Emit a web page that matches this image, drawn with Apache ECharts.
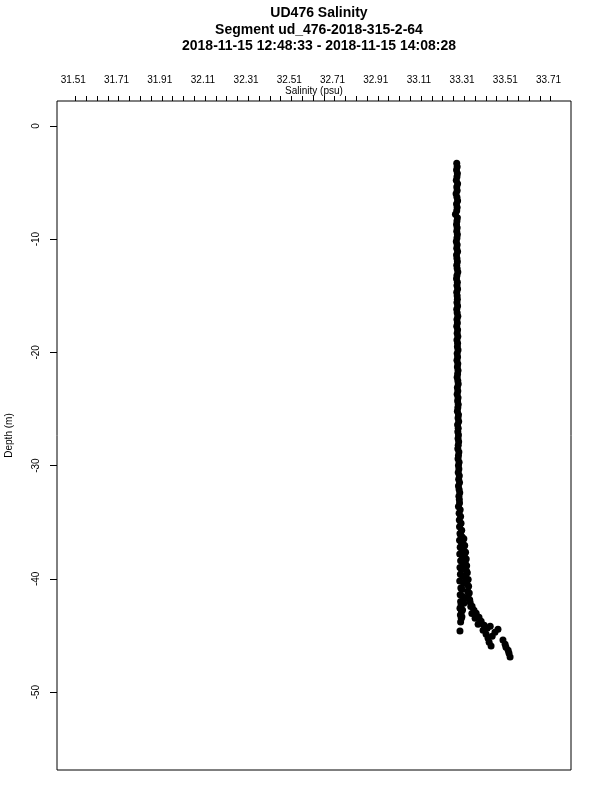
<!DOCTYPE html>
<html>
<head>
<meta charset="utf-8">
<script src="https://cdn.jsdelivr.net/npm/echarts@6/dist/echarts.min.js"></script>
<style>html,body{margin:0;padding:0;background:#fff}#c{width:600px;height:800px}</style>
</head>
<body>
<div id="c"></div>
<script>
// Depth (m) and salinity (psu) for each plotted point
const depth = [
  -3.3,-3.6,-3.9,-4.2,-4.5,-4.8,-5.1,-5.4,-5.7,-6.0,
  -6.3,-6.6,-6.9,-7.2,-7.5,-7.8,-8.1,-8.4,-8.7,-9.0,
  -9.3,-9.6,-9.9,-10.2,-10.5,-10.8,-11.1,-11.4,-11.7,-12.0,
  -12.3,-12.6,-12.9,-13.2,-13.5,-13.8,-14.1,-14.4,-14.7,-15.0,
  -15.3,-15.6,-15.9,-16.2,-16.5,-16.8,-17.1,-17.4,-17.7,-18.0,
  -18.3,-18.6,-18.9,-19.2,-19.5,-19.8,-20.1,-20.4,-20.7,-21.0,
  -21.3,-21.6,-21.9,-22.2,-22.5,-22.8,-23.1,-23.4,-23.7,-24.0,
  -24.3,-24.6,-24.9,-25.2,-25.5,-25.8,-26.1,-26.4,-26.7,-27.0,
  -27.3,-27.6,-27.9,-28.2,-28.5,-28.8,-29.1,-29.4,-29.7,-30.0,
  -30.3,-30.6,-30.9,-31.2,-31.5,-31.8,-32.1,-32.4,-32.7,-33.0,
  -33.3,-33.6,-33.9,-34.2,-34.5,-34.8,-35.1,-35.4,-35.7,-36.0,
  -36.3,-36.6,-36.9,-37.2,-37.5,-37.8,-38.1,-38.4,-38.7,-39.0,
  -39.3,-39.6,-39.9,-40.2,-40.5,-40.8,-41.1,-41.4,-41.7,-42.0,
  -42.3,-42.6,-42.9,-43.2,-43.5,-43.8,-44.6,
  -36.15,-36.45,-36.75,-37.05,-37.35,-37.65,-37.95,-38.25,-38.55,-38.85,
  -39.15,-39.45,-39.75,-40.05,-40.35,-40.65,-40.95,-41.25,-41.55,-41.85,
  -42.15,-42.45,-42.75,-43.05,-43.35,
  -41.62,-42.06,-42.42,-42.77,-43.03,-43.47,-43.39,-43.74,-44.00,-44.09,
  -44.53,-44.36,-44.18,-44.89,-45.24,-45.06,-44.71,-44.44,-45.94,-45.59,
  -45.41,-45.77,-46.03,-46.30,-46.56,-46.91
];
const salinity = [
  33.285,33.287,33.284,33.288,33.286,33.283,33.289,33.285,33.287,33.282,
  33.286,33.289,33.284,33.287,33.285,33.279,33.288,33.286,33.284,33.287,
  33.285,33.288,33.286,33.283,33.287,33.285,33.289,33.284,33.286,33.288,
  33.285,33.287,33.290,33.286,33.284,33.288,33.286,33.289,33.285,33.287,
  33.288,33.286,33.289,33.285,33.287,33.290,33.286,33.288,33.285,33.289,
  33.287,33.290,33.286,33.289,33.288,33.291,33.287,33.289,33.286,33.290,
  33.288,33.291,33.289,33.287,33.290,33.292,33.288,33.290,33.287,33.291,
  33.289,33.292,33.290,33.288,33.293,33.291,33.294,33.289,33.292,33.290,
  33.293,33.291,33.294,33.292,33.290,33.295,33.293,33.291,33.296,33.293,
  33.295,33.292,33.297,33.294,33.298,33.293,33.296,33.299,33.295,33.297,
  33.298,33.293,33.301,33.296,33.303,33.297,33.305,33.298,33.308,33.300,
  33.310,33.298,33.314,33.301,33.318,33.299,33.322,33.303,33.326,33.300,
  33.330,33.302,33.327,33.299,33.333,33.304,33.336,33.301,33.330,33.303,
  33.305,33.300,33.307,33.302,33.306,33.303,33.300,
  33.304,33.318,33.306,33.322,33.308,33.326,33.310,33.329,33.313,33.331,
  33.307,33.334,33.312,33.338,33.316,33.340,33.310,33.343,33.314,33.345,
  33.318,33.350,33.312,33.355,33.309,
  33.337,33.347,33.356,33.365,33.375,33.370,33.388,33.398,33.384,33.412,
  33.407,33.426,33.440,33.421,33.430,33.449,33.462,33.476,33.444,33.435,
  33.499,33.509,33.513,33.523,33.527,33.532
];
// Axis tick labels
const salinityTickLabels = [31.51,31.71,31.91,32.11,32.31,32.51,32.71,32.91,33.11,33.31,33.51,33.71];
const salinityMinorTicks = [
  31.52,31.57,31.62,31.67,31.72,31.77,31.82,31.87,31.92,31.97,
  32.02,32.07,32.12,32.17,32.22,32.27,32.32,32.37,32.42,32.47,
  32.52,32.57,32.62,32.67,32.72,32.77,32.82,32.87,32.92,32.97,
  33.02,33.07,33.12,33.17,33.22,33.27,33.32,33.37,33.42,33.47,
  33.52,33.57,33.62,33.67,33.72
];
const depthTickLabels = [0,-10,-20,-30,-40,-50];
const titleLines = ['UD476 Salinity','Segment ud_476-2018-315-2-64','2018-11-15 12:48:33 - 2018-11-15 14:08:28'];

const points = depth.map((d,i)=>[salinity[i], d]);
const FONT = '"Liberation Sans", Arial, Helvetica, sans-serif';
const chart = echarts.init(document.getElementById('c'), null, {renderer:'canvas'});
chart.setOption({
  animation:false,
  backgroundColor:'#fff',
  textStyle:{fontFamily:FONT},
  title:{
    text: titleLines.join('\n'),
    left: 314, top: 0, textAlign:'center',
    textStyle:{fontSize:14, fontWeight:'bold', color:'#000', lineHeight:16.5, fontFamily:FONT}
  },
  grid:{left:57, right:29, top:101, bottom:30, show:true, borderColor:'#000', borderWidth:1,
        backgroundColor:'transparent', outerBoundsMode:'none', containLabel:false},
  xAxis:{
    type:'value', position:'top', min:31.4345, max:33.814,
    name:'Salinity (psu)', nameLocation:'middle', nameGap:5, nameMoveOverlap:false,
    nameTextStyle:{fontSize:10, color:'#000', fontFamily:FONT},
    axisLine:{show:false, onZero:false},
    axisTick:{show:true, customValues:salinityMinorTicks, length:5, lineStyle:{color:'#000'}},
    axisLabel:{customValues:salinityTickLabels, fontSize:10, color:'#000', margin:16, formatter:v=>v.toFixed(2), fontFamily:FONT},
    splitLine:{show:false}
  },
  yAxis:{
    type:'value', min:-56.88, max:2.2,
    name:'Depth (m)', nameLocation:'middle', nameGap:43, nameRotate:90, nameMoveOverlap:false,
    nameTextStyle:{fontSize:10, color:'#000', fontFamily:FONT},
    axisLine:{show:false, onZero:false},
    axisTick:{show:true, customValues:depthTickLabels, length:7, lineStyle:{color:'#000'}},
    axisLabel:{customValues:depthTickLabels, fontSize:10, color:'#000', rotate:90, margin:16, fontFamily:FONT},
    splitLine:{show:false}
  },
  series:[{
    type:'scatter', data:points, symbol:'circle', symbolSize:7,
    itemStyle:{color:'#000', opacity:1}
  }]
});
</script>
</body>
</html>
